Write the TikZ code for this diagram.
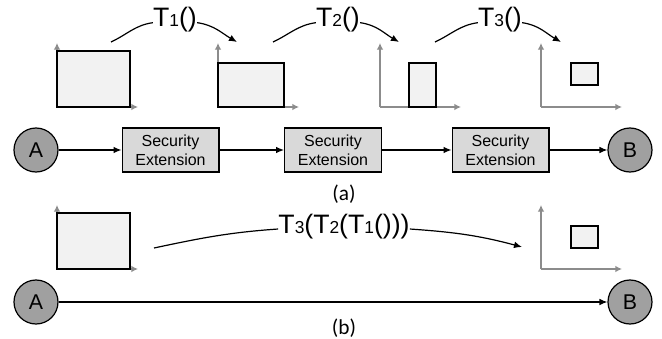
\documentclass[tikz,border=0pt]{standalone}
\usepackage{fontspec}
\setmainfont{Liberation Sans}
\newfontfamily\capfont{Carlito}
\usetikzlibrary{positioning}
\usetikzlibrary{arrows.meta}
\definecolor{hostgray}{HTML}{A0A0A0}
\definecolor{extgray}{HTML}{D9D9D9}
\definecolor{datagray}{HTML}{F2F2F2}
\definecolor{axisgray}{HTML}{8C8C8C}
\newcommand{\ix}[1]{{\fontsize{13}{13}\selectfont #1}}
\tikzset{
host/.style={ % end points A and B
circle, draw, line width=0.9pt,
fill=hostgray, minimum size=33pt, inner sep=0pt,
font=\fontsize{16}{16}\selectfont},
secext/.style={ % security extension boxes
rectangle, draw, line width=1pt, fill=extgray,
minimum width=72.5pt, minimum height=33pt, inner sep=0pt,
align=center, font=\fontsize{12}{14}\selectfont},
databox/.style={draw, line width=1pt, fill=datagray},
axis/.style={draw=axisgray, line width=1.1pt, -{Latex[length=5pt, width=5pt]}},
xform/.style={inner sep=0pt, font=\fontsize{20}{20}\selectfont},
caption/.style={inner sep=0pt, font=\capfont\fontsize{16}{16}\selectfont},
every edge/.style={ % connectors
draw,
-{Latex[length=6pt, width=5pt]},
line width=0.9pt}}

\begin{document}
\begin{tikzpicture}[x=0.75pt, y=-0.75pt]
	\useasboundingbox (0,0) rectangle (662,339);
	% (a) chain of extensions
	\node[host] (A) at (36,150) {A};
	\node[secext] (se1) at (170.5,150) {Security\\Extension};
	\node[secext] (se2) at (333,150) {Security\\Extension};
	\node[secext] (se3) at (500.5,150) {Security\\Extension};
	\node[host] (B) at (630,150) {B};
	\draw (A) edge (se1);
	\draw (se1) edge (se2);
	\draw (se2) edge (se3);
	\draw (se3) edge (B);
	% data after each step
	\coordinate (o1) at (57,107);
	\coordinate (o2) at (218,107);
	\coordinate (o3) at (380,107);
	\coordinate (o4) at (541,107);
	\foreach \o in {o1,o2,o3,o4}{
		\draw[axis] (\o) -- ++(0,-64);
		\draw[axis] (\o) -- ++(81,0);
	}
	\draw[databox] (57,51) rectangle (130,107);
	\draw[databox] (218,63) rectangle (284,107);
	\draw[databox] (409,63) rectangle (436,107);
	\draw[databox] (571,63) rectangle (598,85);
	% transformations
	\node[xform] (t1) at (175,20) {T\ix{1}()};
	\node[xform] (t2) at (338,20) {T\ix{2}()};
	\node[xform] (t3) at (500,20) {T\ix{3}()};
	\coordinate (s1) at (111,42);
	\coordinate (e1) at (237,42);
	\coordinate (s2) at (273,42);
	\coordinate (e2) at (399,42);
	\coordinate (s3) at (435,42);
	\coordinate (e3) at (561,42);
	\draw (s1) edge[-, out=25, in=188] ([yshift=-2pt]t1.west);
	\draw ([yshift=-2pt]t1.east) edge[out=-8, in=150] (e1);
	\draw (s2) edge[-, out=25, in=188] ([yshift=-2pt]t2.west);
	\draw ([yshift=-2pt]t2.east) edge[out=-8, in=150] (e2);
	\draw (s3) edge[-, out=25, in=188] ([yshift=-2pt]t3.west);
	\draw ([yshift=-2pt]t3.east) edge[out=-8, in=150] (e3);
	\node[caption] (capa) at (344,194) {(a)};
	% (b) one combined transformation
	\node[host] (A2) at (36,302) {A};
	\node[host] (B2) at (630,302) {B};
	\draw (A2) edge (B2);
	\coordinate (o5) at (57,269);
	\coordinate (o6) at (541,269);
	\foreach \o in {o5,o6}{
		\draw[axis] (\o) -- ++(0,-64);
		\draw[axis] (\o) -- ++(81,0);
	}
	\draw[databox] (57,213) rectangle (130,269);
	\draw[databox] (571,226) rectangle (598,248);
	\node[xform] (tall) at (344,227) {T\ix{3}(T\ix{2}(T\ix{1}()))};
	\coordinate (s4) at (154,248);
	\coordinate (e4) at (522,247);
	\draw (s4) edge[-, out=12, in=184] ([yshift=-1.5pt]tall.west);
	\draw ([yshift=-1.5pt]tall.east) edge[out=-4, in=165] (e4);
	\node[caption] (capb) at (344,328) {(b)};
\end{tikzpicture}
\end{document}
